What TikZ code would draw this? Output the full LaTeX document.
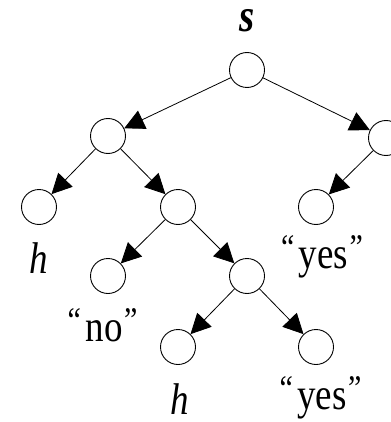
\documentclass[tikz,border=0pt]{standalone}
\usepackage{fontspec}
\setmainfont{Liberation Serif}
\usetikzlibrary{arrows.meta}
\newcommand{\tall}[1]{\scalebox{1}[1.2]{#1}}
\newcommand{\oq}{\raisebox{7pt}{\fontsize{30}{32}\selectfont “}\hspace{4.5pt}}
\newcommand{\cq}{\hspace{1.5pt}\raisebox{7pt}{\fontsize{30}{32}\selectfont ”}}
\begin{document}
\begin{tikzpicture}[x=1pt,y=-1pt,
  st/.style={circle,draw,line width=0.9pt,minimum size=35pt,inner sep=0pt},
  lbl/.style={inner sep=0pt,anchor=base,font=\fontsize{37}{44}\selectfont},
  arr/.style={line width=0.8pt,-{Triangle[length=20pt,width=20pt]}}]
\useasboundingbox (0,0) rectangle (390,422);
\node[st] (r) at (247,70) {};
\node[st] (a) at (108,136) {};
\node[st] (b) at (386,138) {};
\node[st] (aa) at (39,207) {};
\node[st] (ab) at (178,207) {};
\node[st] (ba) at (316,207) {};
\node[st] (aba) at (108,276) {};
\node[st] (abb) at (247,276) {};
\node[st] (abba) at (178,347) {};
\node[st] (abbb) at (316,347) {};
\node[lbl,font=\fontsize{39}{44}\selectfont\bfseries\itshape] (ls) at (247,32) {\tall{s}};
\node[lbl] (lh1) at (39,273) {\tall{\itshape h}};
\node[lbl] (ly1) at (322,268) {\tall{\oq yes\cq}};
\node[lbl] (lno) at (102.5,341) {\tall{\oq no\cq}};
\node[lbl] (lh2) at (180,414) {\tall{\itshape h}};
\node[lbl] (ly2) at (320.5,409) {\tall{\oq yes\cq}};
\draw[arr] (r) -- (a);
\draw[arr] (r) -- (b);
\draw[arr] (a) -- (aa);
\draw[arr] (a) -- (ab);
\draw[arr] (b) -- (ba);
\draw[arr] (ab) -- (aba);
\draw[arr] (ab) -- (abb);
\draw[arr] (abb) -- (abba);
\draw[arr] (abb) -- (abbb);
\end{tikzpicture}
\end{document}
